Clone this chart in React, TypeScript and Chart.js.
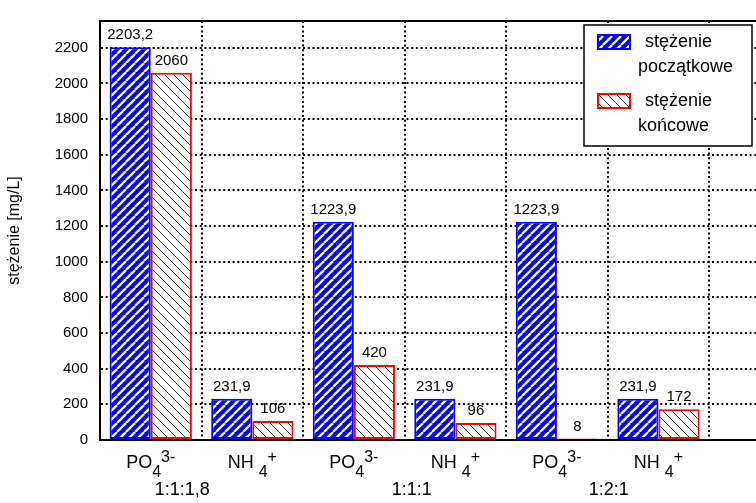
import React, { useEffect, useRef } from 'react';
import { Chart, registerables } from 'chart.js';

Chart.register(...registerables);

// ---------- data ----------
const categories = ['PO_4^3-', 'NH _4^+', 'PO_4^3-', 'NH _4^+', 'PO_4^3-', 'NH _4^+'];
const categoryX = [1, 2, 3, 4, 5, 6];
const groupLabels = ['1:1:1,8', '1:1:1', '1:2:1'];
const groupLabelX = [1.31, 3.57, 5.51];
const initialValues = [2203.2, 231.9, 1223.9, 231.9, 1223.9, 231.9];
const finalValues = [2060, 106, 420, 96, 8, 172];
const seriesNames = ['stężenie\npoczątkowe', 'stężenie\nkońcowe'];
const yTicks = [0, 200, 400, 600, 800, 1000, 1200, 1400, 1600, 1800, 2000, 2200];
const yTitle = 'stężenie [mg/L]';

const FONT = '"Liberation Sans", Arial, sans-serif';

function makeStripePattern(): CanvasPattern | string {
  const s = 9;
  const c = document.createElement('canvas');
  c.width = s; c.height = s;
  const g = c.getContext('2d');
  if (!g) return '#0000ff';
  g.fillStyle = '#0000ff';
  g.fillRect(0, 0, s, s);
  g.strokeStyle = '#ffffff';
  g.lineWidth = 2.3;
  for (const k of [-s, 0, s]) {
    g.beginPath();
    g.moveTo(k, s);
    g.lineTo(k + s, 0);
    g.stroke();
  }
  return g.createPattern(c, 'repeat') as CanvasPattern;
}

function makeHatchPattern(): CanvasPattern | string {
  const s = 9;
  const c = document.createElement('canvas');
  c.width = s; c.height = s;
  const g = c.getContext('2d');
  if (!g) return '#ffffff';
  g.fillStyle = '#ffffff';
  g.fillRect(0, 0, s, s);
  g.strokeStyle = '#333333';
  g.lineWidth = 1;
  for (const k of [-s, 0, s]) {
    g.beginPath();
    g.moveTo(k, 0);
    g.lineTo(k + s, s);
    g.stroke();
  }
  return g.createPattern(c, 'repeat') as CanvasPattern;
}

function fmt(v: number): string {
  return String(v).replace('.', ',');
}

function parseLabel(s: string): [string, string, string] {
  const m = s.match(/^([^_]*)_([^\^]*)\^(.*)$/);
  if (!m) return [s, '', ''];
  return [m[1], m[2], m[3]];
}

const labelsPlugin = {
  id: 'richLabels',
  afterDatasetsDraw(chart: any) {
    const ctx = chart.ctx as CanvasRenderingContext2D;
    ctx.save();
    ctx.fillStyle = '#000';
    ctx.textAlign = 'center';
    ctx.textBaseline = 'alphabetic';
    ctx.font = `15px ${FONT}`;
    chart.data.datasets.forEach((ds: any, di: number) => {
      const meta = chart.getDatasetMeta(di);
      meta.data.forEach((bar: any, j: number) => {
        ctx.fillText(fmt(ds.data[j].y), bar.x, bar.y - 8);
      });
    });
    ctx.restore();
  },
  afterDraw(chart: any) {
    const ctx = chart.ctx as CanvasRenderingContext2D;
    const xs = chart.scales.x;
    const area = chart.chartArea;
    ctx.save();
    // top frame line
    ctx.strokeStyle = '#000';
    ctx.lineWidth = 2;
    ctx.beginPath();
    ctx.moveTo(area.left - 1, area.top);
    ctx.lineTo(area.right, area.top);
    ctx.stroke();

    // category labels with sub/superscripts
    ctx.fillStyle = '#000';
    ctx.textAlign = 'left';
    ctx.textBaseline = 'alphabetic';
    categories.forEach((lab, i) => {
      const [main, sub, sup] = parseLabel(lab);
      ctx.font = `18px ${FONT}`;
      const wm = ctx.measureText(main).width;
      ctx.font = `16px ${FONT}`;
      const ws = ctx.measureText(sub).width;
      const wp = ctx.measureText(sup).width;
      const cx = xs.getPixelForValue(categoryX[i]);
      let x = cx - (wm + ws + wp) / 2;
      ctx.font = `18px ${FONT}`;
      ctx.fillText(main, x, area.bottom + 28);
      x += wm;
      ctx.font = `16px ${FONT}`;
      ctx.fillText(sub, x, area.bottom + 37);
      x += ws;
      ctx.fillText(sup, x, area.bottom + 22);
    });
    ctx.textAlign = 'center';
    ctx.font = `18px ${FONT}`;
    groupLabels.forEach((g, i) => {
      ctx.fillText(g, xs.getPixelForValue(groupLabelX[i]), area.bottom + 55);
    });

    // legend
    const bw = 168, bh = 121;
    const bx = area.right - 8 - bw;
    const by = area.top + 4;
    ctx.fillStyle = '#fff';
    ctx.fillRect(bx, by, bw, bh);
    ctx.strokeStyle = '#000';
    ctx.lineWidth = 1.5;
    ctx.strokeRect(bx, by, bw, bh);
    chart.data.datasets.forEach((ds: any, di: number) => {
      const top = by + 10 + di * 59;
      ctx.fillStyle = ds.backgroundColor;
      ctx.fillRect(bx + 14, top, 32, 14);
      ctx.strokeStyle = ds.borderColor;
      ctx.lineWidth = 2;
      ctx.strokeRect(bx + 14, top, 32, 14);
      const lines = String(ds.label).split('\n');
      ctx.fillStyle = '#000';
      ctx.textAlign = 'left';
      ctx.font = `18px ${FONT}`;
      ctx.fillText(lines[0], bx + 61, top + 12);
      if (lines[1]) ctx.fillText(lines[1], bx + 54, top + 37);
    });
    ctx.restore();
  },
};

export default function App() {
  const ref = useRef<HTMLCanvasElement | null>(null);

  useEffect(() => {
    if (!ref.current) return;
    Chart.defaults.font.family = FONT;
    Chart.defaults.color = '#000';
    const stripes = makeStripePattern();
    const hatch = makeHatchPattern();
    const chart = new Chart(ref.current, {
      type: 'bar',
      data: {
        datasets: [
          {
            label: seriesNames[0],
            data: categoryX.map((x, i) => ({ x, y: initialValues[i] })),
            backgroundColor: stripes as any,
            borderColor: '#0000ff',
            borderWidth: 2,
            borderSkipped: false,
            categoryPercentage: 0.81,
            barPercentage: 1,
          },
          {
            label: seriesNames[1],
            data: categoryX.map((x, i) => ({ x, y: finalValues[i] })),
            backgroundColor: hatch as any,
            borderColor: '#ff0000',
            borderWidth: 2,
            borderSkipped: false,
            categoryPercentage: 0.81,
            barPercentage: 1,
          },
        ],
      },
      options: {
        animation: false,
        responsive: false,
        devicePixelRatio: 1,
        layout: { padding: { top: 13, left: 0, right: 0, bottom: 0 } },
        plugins: {
          legend: { display: false },
          tooltip: { enabled: false },
        },
        scales: {
          x: {
            type: 'linear',
            min: 0.5,
            max: 7,
            offset: false,
            grid: { color: '#000', lineWidth: 2, drawTicks: false, offset: false },
            border: { display: true, color: '#000', width: 2, dash: [2, 2.7] },
            ticks: { display: false },
            afterBuildTicks: (s: any) => {
              s.ticks = categoryX.map((v) => ({ value: v + 0.5 }));
            },
            afterFit: (s: any) => {
              s.height = 63;
            },
          },
          y: {
            min: 0,
            max: 2350,
            grid: { color: '#000', lineWidth: 2, drawTicks: false },
            border: { display: true, color: '#000', width: 2, dash: [2, 2.7] },
            ticks: {
              font: { size: 15, family: FONT },
              color: '#000',
              padding: 12,
              callback: (v: any) => String(v),
            },
            afterBuildTicks: (s: any) => {
              s.ticks = yTicks.map((v) => ({ value: v }));
            },
            title: {
              display: true,
              text: yTitle,
              color: '#000',
              font: { size: 16, family: FONT },
              padding: { top: 5, bottom: 0 },
            },
            afterFit: (s: any) => {
              s.width = 100;
            },
          },
        },
      } as any,
      plugins: [labelsPlugin],
    });
    return () => chart.destroy();
  }, []);

  return (
    <div
      style={{
        position: 'fixed',
        left: 0,
        top: 0,
        width: 756,
        height: 503,
        overflow: 'hidden',
        background: '#fff',
      }}
    >
      <canvas ref={ref} width={760} height={503} style={{ display: 'block' }} />
    </div>
  );
}
